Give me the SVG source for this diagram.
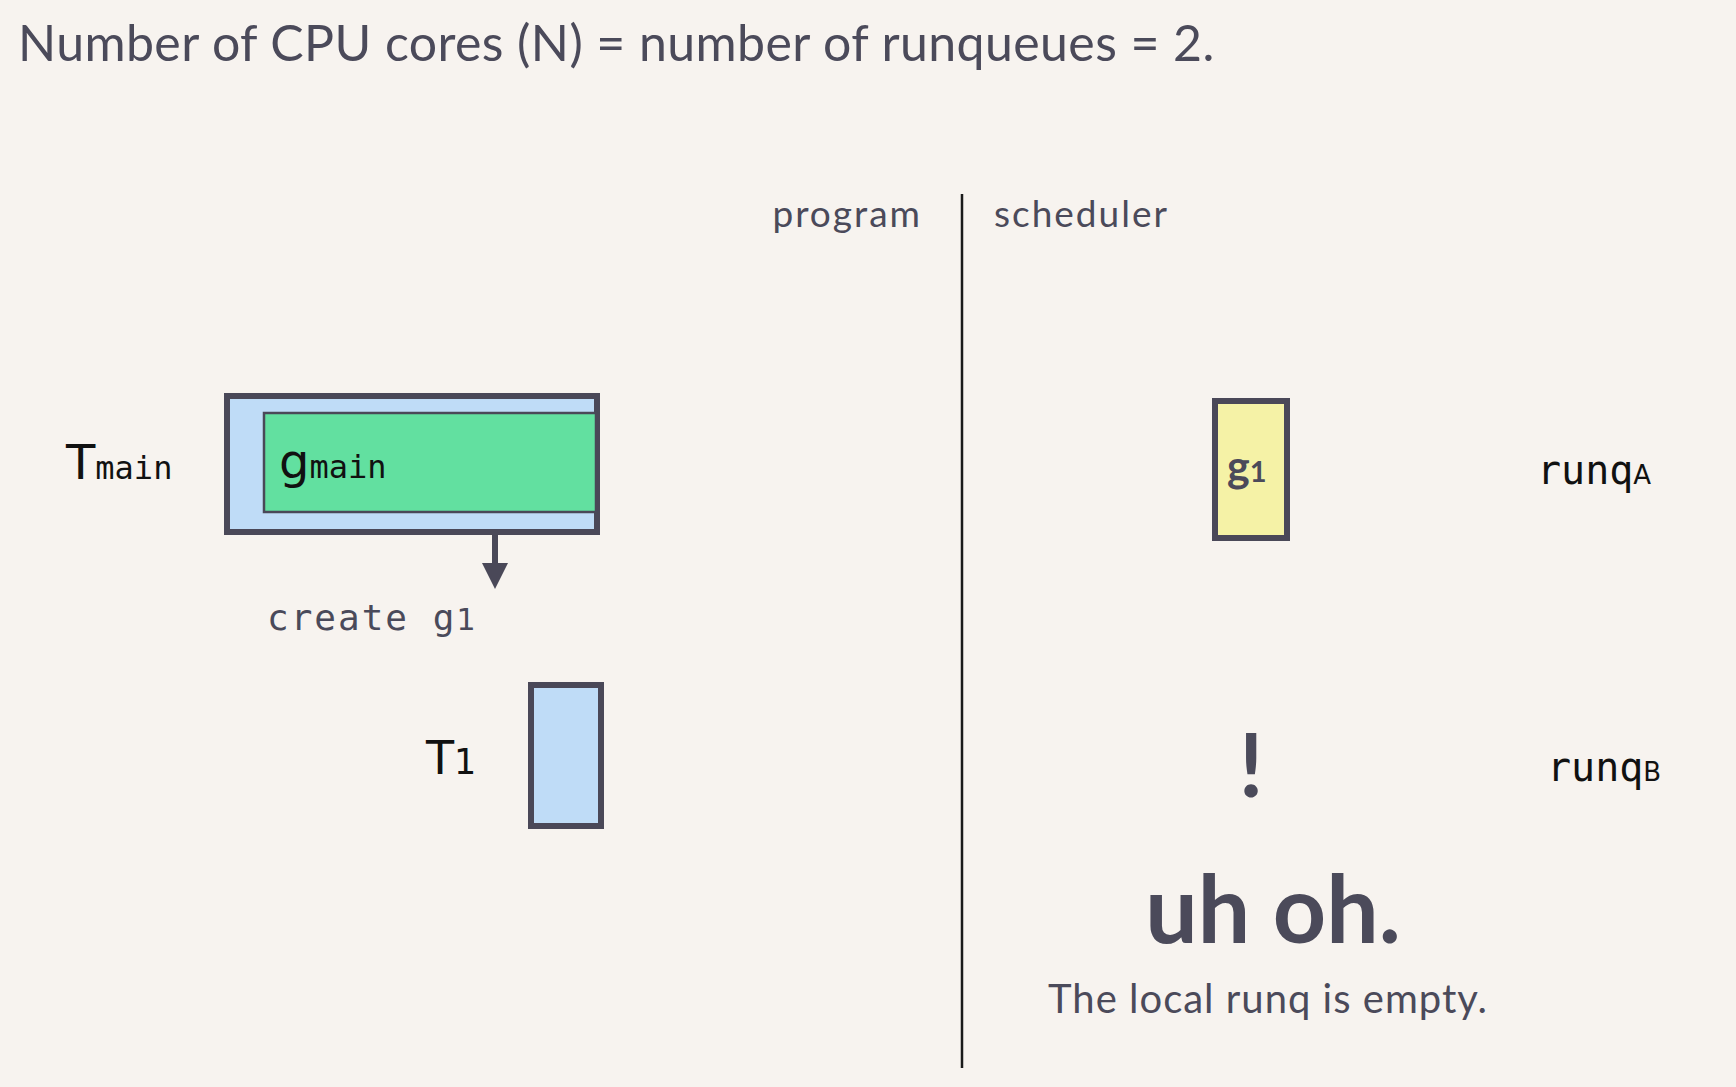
<svg xmlns="http://www.w3.org/2000/svg" width="1736" height="1087" viewBox="0 0 1736 1087">
<defs>
<style>
.title{font-family:Lato,"Open Sans",sans-serif;fill:#4b4a5a}
.lbl{font-family:"DejaVu Sans",sans-serif;fill:#111}
.mono{font-family:"DejaVu Sans Mono",monospace}
.box{stroke:#4a4858;stroke-width:6}
</style>
</defs>
<rect width="1736" height="1087" fill="#f7f3ef"/>
<text class="title" x="18" y="61" font-size="50" letter-spacing="0.4">Number of CPU cores (N) = number of runqueues = 2.</text>
<text class="title" x="922" y="227" font-size="37" letter-spacing="2" text-anchor="end">program</text>
<text class="title" x="994" y="227" font-size="37" letter-spacing="2">scheduler</text>
<g id="connectors">
<line x1="962" y1="194" x2="962" y2="1068" stroke="#1a1a1a" stroke-width="2.5"/>
<line id="c-create" x1="495" y1="535" x2="495" y2="566" stroke="#4a4858" stroke-width="6"/>
<path d="M482,563 L508,563 L495,589 Z" fill="#4a4858"/>
</g>
<g id="tmain">
<text class="lbl" x="66" y="479" font-size="48">T<tspan class="mono" font-size="32">main</tspan></text>
<rect class="box" x="227" y="396" width="370" height="136" fill="#bfdcf7"/>
</g>
<g id="gmain">
<rect x="264" y="413" width="332" height="99" fill="#62e0a0" stroke="#4a4858" stroke-width="2.5"/>
<text class="lbl" x="279" y="478" font-size="48">g<tspan class="mono" font-size="32">main</tspan></text>
</g>
<g id="create-label">
<text class="mono" x="267" y="630" font-size="36" letter-spacing="2" fill="#4a4a5a">create g<tspan font-family="DejaVu Sans,sans-serif" font-size="30" letter-spacing="0">1</tspan></text>
</g>
<g id="t1">
<text class="lbl" x="426" y="774" font-size="46">T<tspan font-size="35">1</tspan></text>
<rect class="box" x="531" y="685" width="70" height="141" fill="#bfdcf7"/>
</g>
<g id="g1">
<rect class="box" x="1215" y="401" width="72" height="137" fill="#f5f2a6"/>
<text x="1227" y="482" font-family="Lato,sans-serif" font-weight="700" font-size="43" fill="#4b4a5a">g<tspan font-size="29">1</tspan></text>
</g>
<g id="runqA">
<text class="mono" x="1537" y="484" font-size="40" fill="#111">runq<tspan font-family="DejaVu Sans,sans-serif" font-size="26">A</tspan></text>
</g>
<g id="runqB">
<text class="mono" x="1547" y="781" font-size="40" fill="#111">runq<tspan font-family="DejaVu Sans,sans-serif" font-size="26">B</tspan></text>
</g>
<g id="alert">
<text class="title" x="1251" y="797" font-size="88" font-weight="700" text-anchor="middle">!</text>
<text class="title" x="1273" y="943" font-size="93" font-weight="700" text-anchor="middle">uh oh.</text>
<text class="title" x="1268" y="1013" font-size="40" letter-spacing="1" text-anchor="middle">The local runq is empty.</text>
</g>
</svg>
